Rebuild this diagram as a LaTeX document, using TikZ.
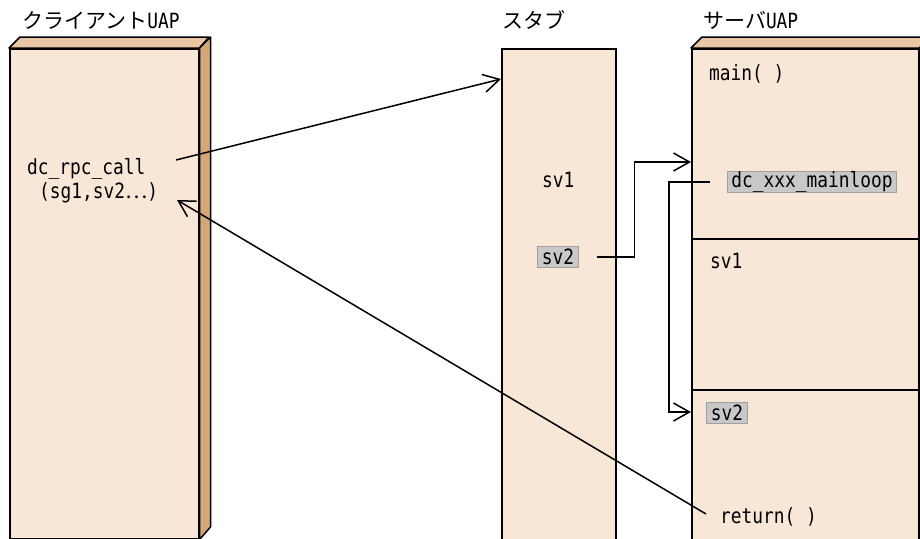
\documentclass[tikz,border=0pt]{standalone}
\usepackage{fontspec}
\setmonofont[FakeStretch=0.85]{DejaVu Sans Mono}
\newfontfamily\jpfont{Noto Sans CJK JP}
\usetikzlibrary{arrows.meta, positioning}

\definecolor{uapfront}{RGB}{248,230,214}
\definecolor{uaptop}{RGB}{234,198,165}
\definecolor{uapside}{RGB}{214,165,120}
\definecolor{taggray}{RGB}{200,200,200}
\definecolor{tagedge}{RGB}{160,160,160}

\begin{document}
\begin{tikzpicture}[
    x=1pt, y=-1pt,
    front/.style={draw, line width=1.5pt, fill=uapfront, inner sep=0pt, anchor=north west},
    topface/.style={draw, line width=1.5pt, fill=uaptop, line join=round},
    sideface/.style={draw, line width=1.5pt, fill=uapside, line join=round},
    lbl/.style={font=\ttfamily\fontsize{21}{24}\selectfont, inner sep=0pt, anchor=base west},
    tag/.style={lbl, anchor=center, fill=taggray, draw=tagedge, line width=1.2pt,
                inner xsep=4pt, minimum height=21pt},
    link/.style={-{Straight Barb[length=16pt, width=18pt, line width=1.5pt]}, line width=1.5pt},
    plain/.style={line width=1.5pt}
  ]
    \clip (0,0) rectangle (920,538);

    % boxes
    \node[front, minimum width=189pt, minimum height=490pt] (client) at (9,48) {};
    \filldraw[topface] (client.north west) -- ++(11,-11) -- ++(189,0) -- (client.north east) -- cycle;
    \filldraw[sideface] (client.north east) -- ++(11,-11) -- ++(0,490) -- (client.south east) -- cycle;

    \node[front, minimum width=114pt, minimum height=520pt] (stub) at (501,48) {};

    \node[front, minimum width=227pt, minimum height=520pt] (server) at (691,48) {};
    \filldraw[topface] (server.north west) -- ++(11,-11) -- ++(227,0) -- (server.north east) -- cycle;
    \filldraw[sideface] (server.north east) -- ++(11,-11) -- ++(0,520) -- (server.south east) -- cycle;
    \draw[plain] (691,239) -- (918,239);
    \draw[plain] (691,390) -- (918,390);

    % titles
    \node[lbl] (tclient) at (22,28) {{\jpfont クライアント}UAP};
    \node[lbl] (tstub) at (502,28) {\jpfont スタブ};
    \node[lbl] (tserver) at (703,28) {{\jpfont サーバ}UAP};

    % texts
    \node[lbl] (rpc) at (27,174) {dc\_rpc\_call};
    \node[lbl] (args) at (39,198) {(sg1,sv2{\jpfont ⋯})};
    \node[lbl] (sv1a) at (542,187) {sv1};
    \node[tag] (sv2a) at (558,257) {sv2};
    \node[lbl] (main) at (709,80) {main( )};
    \node[tag] (loop) at (812,182) {dc\_xxx\_mainloop};
    \node[lbl] (sv1b) at (710,268) {sv1};
    \node[tag] (sv2b) at (727,413) {sv2};
    \node[lbl] (ret) at (720,523) {return( )};

    % connectors
    \coordinate (callout) at (176,160);
    \coordinate (callin) at (177,200);
    \coordinate (stubin) at (501,79);
    \coordinate (srvin1) at (691,162);
    \coordinate (srvin2) at (691,412);
    \coordinate (retout) at (706,514);

    \draw[link] (callout) -- (stubin);
    \draw[link] ([xshift=18pt]sv2a.east) -- ++(38,0) |- (srvin1);
    \draw[link] ([xshift=-17pt]loop.west) -- ++(-41,0) |- (srvin2);
    \draw[link] (retout) -- (callin);
  \end{tikzpicture}
\end{document}
